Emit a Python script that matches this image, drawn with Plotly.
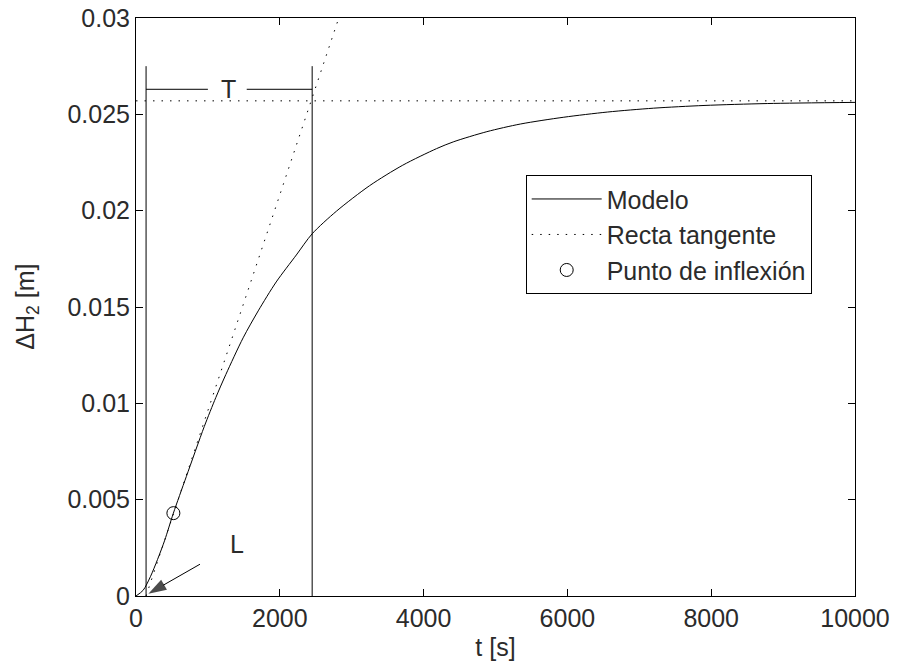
import plotly.graph_objects as go

# Step response of the level change in tank 2
t_model = [0, 100, 200, 300, 400, 520, 700, 950, 1110, 1250, 1490, 1700, 1950,
           2230, 2450, 2790, 3250, 3710, 4180, 4420, 4880, 5350, 5950, 6560,
           7200, 7900, 8780, 10000]
h_model = [0, 0.0003, 0.0010, 0.0019, 0.0029, 0.0043, 0.0062, 0.0088, 0.0103,
           0.0115, 0.0134, 0.0148, 0.0163, 0.0177, 0.0188, 0.01998, 0.0213,
           0.02236, 0.02322, 0.02358, 0.0241, 0.0245, 0.02485, 0.02512, 0.02532,
           0.02546, 0.02556, 0.02562]

# Tangent through the inflection point
t_tangent = [140, 2820]
h_tangent = [0, 0.03]

# Inflection point
t_inflex = [520]
h_inflex = [0.0043]

# Final value
h_final = 0.0257
t_span = [0, 10000]

# Dead time L and L + T
L = 140
LT = 2450
h_vbar = 0.0275
h_tbar = 0.0263
t_tbar = [L, 1000, None, 1540, LT]

# Pointer to the dead time (tail -> head)
t_pointer = [890, 172]
h_pointer = [0.00165, 0.00012]

x_ticks = [0, 2000, 4000, 6000, 8000, 10000]
y_ticks = [0, 0.005, 0.01, 0.015, 0.02, 0.025, 0.03]
y_ticktext = ["0", "0.005", "0.01", "0.015", "0.02", "0.025", "0.03"]

FONT = "Arial, Liberation Sans, sans-serif"
INK = "#2b2b2b"
FS = 25
DOTS = "1.5px,7px"

fig = go.Figure()

fig.add_trace(go.Scatter(x=t_model, y=h_model, mode="lines", name="Modelo",
                         line=dict(color="black", width=1, shape="spline", smoothing=0.8)))
fig.add_trace(go.Scatter(x=t_tangent, y=h_tangent, mode="lines", name="Recta tangente",
                         line=dict(color="black", width=1, dash=DOTS)))
fig.add_trace(go.Scatter(x=t_inflex, y=h_inflex, mode="markers", name="Punto de inflexión",
                         marker=dict(symbol="circle-open", size=13, color="black",
                                     line=dict(width=1, color="black"))))

# Final value reference
fig.add_trace(go.Scatter(x=t_span, y=[h_final, h_final], mode="lines", showlegend=False,
                         line=dict(color="black", width=1, dash=DOTS)))
# Vertical markers at L and L+T
fig.add_trace(go.Scatter(x=[L, L, None, LT, LT], y=[0, h_vbar, None, 0, h_vbar],
                         mode="lines", showlegend=False, line=dict(color="black", width=1)))
# T bracket
fig.add_trace(go.Scatter(x=t_tbar, y=[h_tbar] * len(t_tbar), mode="lines", showlegend=False,
                         line=dict(color="black", width=1)))
# Arrow pointing at L
fig.add_trace(go.Scatter(x=t_pointer, y=h_pointer, mode="lines+markers", showlegend=False,
                         hoverinfo="skip", line=dict(color="black", width=1),
                         marker=dict(symbol="arrow", size=[0, 19], angleref="previous",
                                     color="black", line=dict(width=0))))

fig.add_annotation(x=(L + LT) / 2 - 10, y=h_tbar, text="T", showarrow=False,
                   font=dict(size=FS, color=INK, family=FONT))
fig.add_annotation(x=1400, y=0.0027, text="L", showarrow=False,
                   font=dict(size=FS, color=INK, family=FONT))

# Vertical axis title
fig.add_annotation(xref="paper", yref="paper", x=-0.152, y=0.5,
                   text="ΔH<sub>2</sub> [m]", textangle=-90, showarrow=False,
                   xanchor="center", yanchor="middle",
                   font=dict(size=FS, color=INK, family=FONT))

axis_common = dict(showline=True, linecolor="black", linewidth=1, mirror="ticks",
                   ticks="inside", ticklen=7, tickcolor="black", tickwidth=1,
                   showgrid=False, zeroline=False, automargin=False,
                   tickfont=dict(size=FS, color=INK, family=FONT))

fig.update_xaxes(range=[0, 10000], tickvals=x_ticks, ticktext=[str(v) for v in x_ticks],
                 title=dict(text="t [s]", font=dict(size=FS, color=INK, family=FONT), standoff=7),
                 **axis_common)
fig.update_yaxes(range=[0, 0.03], tickvals=y_ticks, ticktext=y_ticktext, **axis_common)

fig.update_layout(
    width=897, height=668,
    margin=dict(l=136, r=42, t=18, b=72),
    paper_bgcolor="white", plot_bgcolor="white",
    font=dict(family=FONT, color=INK, size=FS),
    legend=dict(x=0.542, y=0.728, xanchor="left", yanchor="top",
                bordercolor="black", borderwidth=1, bgcolor="white",
                itemwidth=70, tracegroupgap=0,
                font=dict(size=FS, color=INK, family=FONT)),
)

fig.write_html("out.html")
